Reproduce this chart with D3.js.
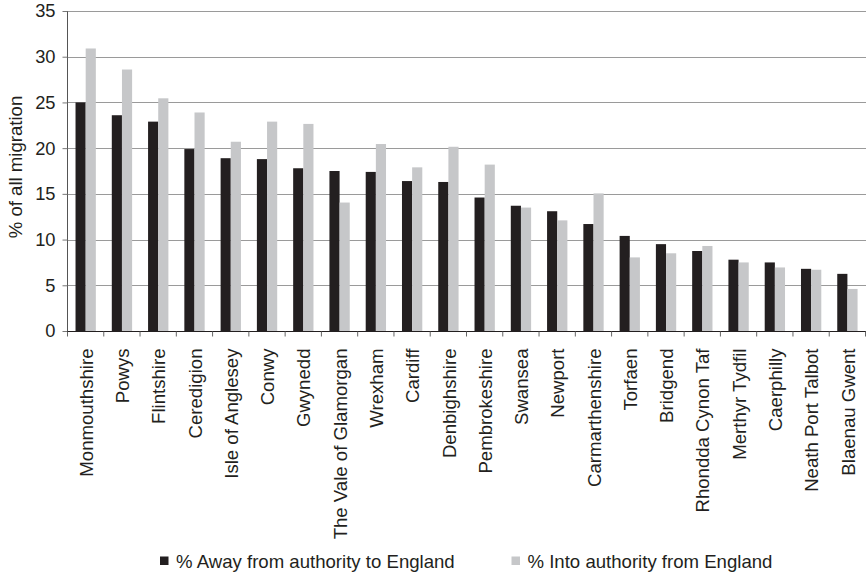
<!DOCTYPE html>
<html><head><meta charset="utf-8">
<script src="https://cdn.jsdelivr.net/npm/d3@7"></script>
<style>
html,body{margin:0;padding:0;background:#fff;}
text{font-family:"Liberation Sans",Arial,Helvetica,sans-serif;fill:#231f20;}
</style></head>
<body>
<svg id="chart" width="867" height="576"></svg>
<script>
const categories = ["Monmouthshire","Powys","Flintshire","Ceredigion","Isle of Anglesey","Conwy","Gwynedd","The Vale of Glamorgan","Wrexham","Cardiff","Denbighshire","Pembrokeshire","Swansea","Newport","Carmarthenshire","Torfaen","Bridgend","Rhondda Cynon Taf","Merthyr Tydfil","Caerphilly","Neath Port Talbot","Blaenau Gwent"];
const awayToEngland = [25.0,23.6,22.9,19.9,18.9,18.8,17.8,17.5,17.4,16.4,16.3,14.6,13.7,13.1,11.7,10.4,9.5,8.75,7.8,7.5,6.8,6.25];
const intoFromEngland = [30.9,28.6,25.45,23.9,20.7,22.9,22.65,14.05,20.45,17.9,20.15,18.2,13.5,12.1,15.05,8.05,8.5,9.3,7.5,6.95,6.7,4.6];
const seriesNames = ["% Away from authority to England","% Into authority from England"];
const yTicks = [0,5,10,15,20,25,30,35];
const colors = ["#231f20","#c6c7c9"];

const svg = d3.select("#chart");
const mLeft = 67, mRight = 865, mTop = 11, mBottom = 331;
const fs = "18.6px";

const y = d3.scaleLinear().domain([0,35]).range([mBottom, mTop]);
const x = d3.scaleBand().domain(categories).range([mLeft, mRight]).paddingInner(0).paddingOuter(0);
const bw = x.bandwidth();
const x1 = d3.scaleBand().domain([0,1]).range([bw*0.235, bw*0.795]).padding(0);

// gridlines
svg.append("g").selectAll("line").data(yTicks.filter(t=>t>0)).join("line")
  .attr("x1", mLeft).attr("x2", mRight+1)
  .attr("y1", d=>Math.round(y(d))+0.5).attr("y2", d=>Math.round(y(d))+0.5)
  .attr("stroke", "#9a9a9a").attr("stroke-width", 1);

// bars
const data = categories.map((c,i)=>({c, v:[awayToEngland[i], intoFromEngland[i]]}));
const groups = svg.append("g").selectAll("g").data(data).join("g")
  .attr("transform", d=>`translate(${x(d.c)},0)`);
groups.selectAll("rect").data(d=>d.v.map((v,k)=>({v,k}))).join("rect")
  .attr("x", d=>x1(d.k)).attr("width", x1.bandwidth())
  .attr("y", d=>y(d.v)).attr("height", d=>y(0)-y(d.v))
  .attr("fill", d=>colors[d.k]);

// y axis
const yAxis = svg.append("g").attr("transform", `translate(${mLeft+0.5},0)`)
  .call(d3.axisLeft(y).tickValues(yTicks).tickSize(5).tickPadding(7).tickFormat(d3.format("d")));
yAxis.select(".domain").attr("stroke", "#555").attr("d", `M0,${mTop}V${mBottom}`);
yAxis.selectAll(".tick line").attr("stroke", "#777");
yAxis.selectAll(".tick text").attr("font-size", "18.3px").attr("fill", "#231f20")
  .attr("font-family", "'Liberation Sans', Arial, sans-serif");

// x axis
const xAxis = svg.append("g").attr("transform", `translate(0,${mBottom+0.5})`);
xAxis.append("line").attr("x1", mLeft).attr("x2", mRight+1).attr("y1",0).attr("y2",0)
  .attr("stroke", "#231f20").attr("stroke-width", 1.2);
xAxis.selectAll("line.tk").data(d3.range(categories.length+1)).join("line").attr("class","tk")
  .attr("x1", i=> i<categories.length ? x(categories[i])+0.5 : mRight+0.5)
  .attr("x2", i=> i<categories.length ? x(categories[i])+0.5 : mRight+0.5)
  .attr("y1", 0).attr("y2", 5).attr("stroke", "#666");
xAxis.selectAll("text").data(categories).join("text")
  .attr("transform", d=>`translate(${x(d)+bw/2+1},17) rotate(-90)`)
  .attr("text-anchor", "end").attr("dy", "0.36em")
  .attr("font-size", fs).text(d=>d);

// y title
svg.append("text").attr("transform", "translate(15,167) rotate(-90)")
  .attr("text-anchor", "middle").attr("dy", "0.36em").attr("font-size", fs)
  .text("% of all migration");

// legend
const legendX = [160, 511.5];
const lg = svg.append("g").selectAll("g").data(seriesNames).join("g")
  .attr("transform", (d,i)=>`translate(${legendX[i]},561)`);
lg.append("rect").attr("x",0).attr("y",-4.5).attr("width",8.5).attr("height",8.5)
  .attr("fill", (d,i)=>colors[i]);
lg.append("text").attr("x", 16).attr("y", 0).attr("dy","0.36em").attr("font-size",fs).text(d=>d);
</script>
</body></html>
